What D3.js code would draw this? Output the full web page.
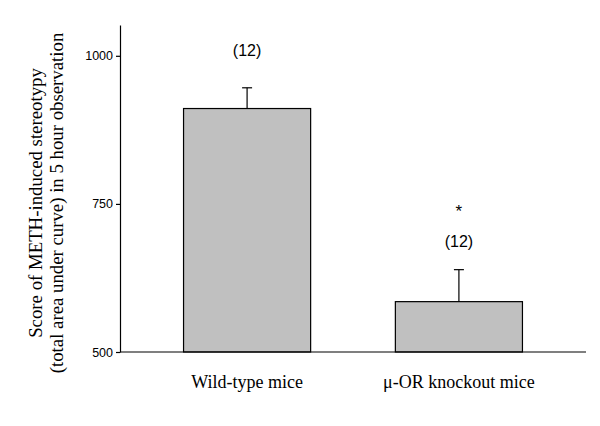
<!DOCTYPE html>
<html><head><meta charset="utf-8">
<script src="https://cdn.jsdelivr.net/npm/d3@7"></script>
<style>body{margin:0;background:#fff}</style>
</head><body>
<svg id="c" width="600" height="426"></svg>
<script>
const categories = ["Wild-type mice", "\u03bc-OR knockout mice"];
const means = [911, 585];
const errors = [35, 54];
const nLabels = ["(12)", "(12)"];
const sigMarks = ["", "*"];
const yTicks = [500, 750, 1000];
const yTitle = ["Score of METH-induced stereotypy", "(total area under curve) in 5 hour observation"];

const svg = d3.select("#c");
const x = d3.scaleBand().domain(categories).range([120, 586]).paddingInner(0.4).paddingOuter(0.3);
const y = d3.scaleLinear().domain([500, 1052]).range([352, 25]);

// bars
svg.selectAll("rect.bar").data(categories).enter().append("rect")
  .attr("x", d => x(d)).attr("width", x.bandwidth())
  .attr("y", (d, i) => y(means[i])).attr("height", (d, i) => y(500) - y(means[i]))
  .attr("fill", "#c0c0c0").attr("stroke", "#000").attr("stroke-width", 1.2);

// error bars
const eg = svg.selectAll("g.err").data(categories).enter().append("g");
eg.append("line").attr("x1", d => x(d) + x.bandwidth()/2).attr("x2", d => x(d) + x.bandwidth()/2)
  .attr("y1", (d, i) => y(means[i])).attr("y2", (d, i) => y(means[i] + errors[i]))
  .attr("stroke", "#000").attr("stroke-width", 1.2);
eg.append("line").attr("x1", d => x(d) + x.bandwidth()/2 - 5).attr("x2", d => x(d) + x.bandwidth()/2 + 5)
  .attr("y1", (d, i) => y(means[i] + errors[i])).attr("y2", (d, i) => y(means[i] + errors[i]))
  .attr("stroke", "#000").attr("stroke-width", 1.2);

// n labels
svg.selectAll("text.n").data(categories).enter().append("text")
  .attr("x", d => x(d) + x.bandwidth()/2)
  .attr("y", (d, i) => i === 0 ? 56 : 247)
  .attr("text-anchor", "middle").attr("font-family", "Liberation Sans, Arial, sans-serif")
  .attr("font-size", 16).text((d, i) => nLabels[i]);
svg.selectAll("text.sig").data(categories).enter().append("text")
  .attr("x", d => x(d) + x.bandwidth()/2)
  .attr("y", 217)
  .attr("text-anchor", "middle").attr("font-family", "Liberation Sans, Arial, sans-serif")
  .attr("font-size", 17).text((d, i) => sigMarks[i]);

// y axis
const ya = svg.append("g").attr("transform", "translate(120,0)")
  .call(d3.axisLeft(y).tickValues(yTicks).tickFormat(d3.format("d")).tickSize(4).tickPadding(3).tickSizeOuter(0));
ya.select(".domain").attr("stroke", "#000").attr("stroke-width", 1.2);
ya.selectAll(".tick line").attr("stroke", "#000").attr("stroke-width", 1.2);
ya.selectAll("text").attr("font-family", "Liberation Sans, Arial, sans-serif").attr("font-size", 12.5).attr("fill", "#000");

// x axis baseline
const xa = svg.append("g").attr("transform", "translate(0,352)")
  .call(d3.axisBottom(x).tickSize(0).tickPadding(0));
xa.select(".domain").attr("d", "M120,0H586").attr("stroke", "#000").attr("stroke-width", 1.2);
xa.selectAll("text").attr("font-family", "Liberation Serif, Times New Roman, serif").attr("font-size", 18)
  .attr("fill", "#000").attr("dy", null).attr("y", 36);

// y title
const yt = svg.append("text").attr("transform", "translate(0,203) rotate(-90)")
  .attr("text-anchor", "middle").attr("font-family", "Liberation Serif, Times New Roman, serif").attr("font-size", 18.8);
yt.selectAll("tspan").data(yTitle).enter().append("tspan")
  .attr("x", 0).attr("y", (d, i) => i === 0 ? 42 : 63).text(d => d);
</script>
</body></html>
